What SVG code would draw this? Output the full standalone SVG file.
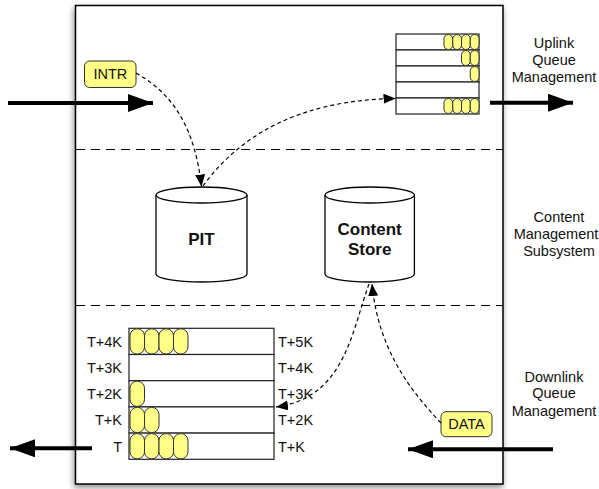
<svg xmlns="http://www.w3.org/2000/svg" width="599" height="489" viewBox="0 0 599 489">
<defs>
<filter id="sh" x="-10%" y="-10%" width="120%" height="120%">
<feDropShadow dx="-1" dy="3" stdDeviation="3" flood-color="#000" flood-opacity="0.45"/>
</filter>
<marker id="ah" viewBox="0 0 12 10" refX="12" refY="5" markerWidth="12" markerHeight="10" markerUnits="userSpaceOnUse" orient="auto">
<path d="M0,0 L12,5 L0,10 Z" fill="#000"/>
</marker>
<marker id="big" viewBox="0 0 25 18" refX="25" refY="9" markerWidth="25" markerHeight="18" markerUnits="userSpaceOnUse" orient="auto">
<path d="M0,0 L25,9 L0,18 Z" fill="#000"/>
</marker>
</defs>
<style>
text{font-family:"Liberation Sans",Arial,sans-serif;font-size:14.5px;fill:#111}
.b{font-weight:bold;font-size:17px}
.r{text-anchor:end}
.m{text-anchor:middle}
.row{fill:#fff;stroke:#222;stroke-width:1.2}
.pill{fill:#ffff88;stroke:#333;stroke-width:1}
.tag{fill:#ffff88;stroke:#333;stroke-width:1}
.sep{fill:none;stroke:#000;stroke-width:1.2;stroke-dasharray:9 6}
.dash{fill:none;stroke:#000;stroke-width:1.2;stroke-dasharray:4 3}
.thick{fill:none;stroke:#000;stroke-width:4}
.cyl{fill:#fff;stroke:#000;stroke-width:1.3}
</style>
<rect id="frame" x="75.5" y="5.5" width="427.5" height="478.5" fill="#fff" stroke="#000" stroke-width="1.5" filter="url(#sh)"/>
<line class="sep" x1="76" y1="149.5" x2="503" y2="149.5"/>
<line class="sep" x1="76" y1="305.5" x2="503" y2="305.5"/>

<g id="uplink-queue">
<rect class="row" x="396" y="34" width="83" height="16"/>
<rect class="row" x="396" y="50" width="83" height="16"/>
<rect class="row" x="396" y="66" width="83" height="16"/>
<rect class="row" x="396" y="82" width="83" height="16"/>
<rect class="row" x="396" y="98" width="83" height="16"/>
<rect class="pill" x="444" y="34.5" width="8.75" height="15" rx="4.3"/>
<rect class="pill" x="452.75" y="34.5" width="8.75" height="15" rx="4.3"/>
<rect class="pill" x="461.5" y="34.5" width="8.75" height="15" rx="4.3"/>
<rect class="pill" x="470.25" y="34.5" width="8.75" height="15" rx="4.3"/>
<rect class="pill" x="461.5" y="50.5" width="8.75" height="15" rx="4.3"/>
<rect class="pill" x="470.25" y="50.5" width="8.75" height="15" rx="4.3"/>
<rect class="pill" x="470.25" y="66.5" width="8.75" height="15" rx="4.3"/>
<rect class="pill" x="444" y="98.5" width="8.75" height="15" rx="4.3"/>
<rect class="pill" x="452.75" y="98.5" width="8.75" height="15" rx="4.3"/>
<rect class="pill" x="461.5" y="98.5" width="8.75" height="15" rx="4.3"/>
<rect class="pill" x="470.25" y="98.5" width="8.75" height="15" rx="4.3"/>
</g>

<g id="downlink-queue">
<rect class="row" x="129" y="328.3" width="145" height="26.2"/>
<rect class="row" x="129" y="354.5" width="145" height="26.2"/>
<rect class="row" x="129" y="380.7" width="145" height="26.2"/>
<rect class="row" x="129" y="406.9" width="145" height="26.2"/>
<rect class="row" x="129" y="433.1" width="145" height="26.2"/>
<rect class="pill" x="130" y="328.8" width="14.5" height="25.2" rx="7"/>
<rect class="pill" x="144.5" y="328.8" width="14.5" height="25.2" rx="7"/>
<rect class="pill" x="159" y="328.8" width="14.5" height="25.2" rx="7"/>
<rect class="pill" x="173.5" y="328.8" width="14.5" height="25.2" rx="7"/>
<rect class="pill" x="130" y="381.2" width="14.5" height="25.2" rx="7"/>
<rect class="pill" x="130" y="407.4" width="14.5" height="25.2" rx="7"/>
<rect class="pill" x="144.5" y="407.4" width="14.5" height="25.2" rx="7"/>
<rect class="pill" x="130" y="433.6" width="14.5" height="25.2" rx="7"/>
<rect class="pill" x="144.5" y="433.6" width="14.5" height="25.2" rx="7"/>
<rect class="pill" x="159" y="433.6" width="14.5" height="25.2" rx="7"/>
<rect class="pill" x="173.5" y="433.6" width="14.5" height="25.2" rx="7"/>
<text class="r" x="122" y="346.7">T+4K</text>
<text class="r" x="122" y="372.9">T+3K</text>
<text class="r" x="122" y="399.1">T+2K</text>
<text class="r" x="122" y="425.3">T+K</text>
<text class="r" x="122" y="451.5">T</text>
<text x="278" y="346.7">T+5K</text>
<text x="278" y="372.9">T+4K</text>
<text x="278" y="399.1">T+3K</text>
<text x="278" y="425.3">T+2K</text>
<text x="278" y="451.5">T+K</text>
</g>

<g id="pit">
<path class="cyl" d="M156,195 L156,274 A45.5,8 0 0 0 247,274 L247,195"/>
<ellipse class="cyl" cx="201.5" cy="195" rx="45.5" ry="8"/>
<text class="b m" x="201.5" y="245">PIT</text>
</g>

<g id="content-store">
<path class="cyl" d="M325,195 L325,274 A44.7,8 0 0 0 414.4,274 L414.4,195"/>
<ellipse class="cyl" cx="369.7" cy="195" rx="44.7" ry="8"/>
<text class="b m" x="369.7" y="234.5">Content</text>
<text class="b m" x="369.7" y="255">Store</text>
</g>

<g id="intr">
<rect class="tag" x="84.5" y="61" width="51.5" height="26.5" rx="5"/>
<text class="m" x="110.3" y="79.3">INTR</text>
</g>

<g id="data">
<rect class="tag" x="441" y="411.7" width="51" height="25" rx="5"/>
<text class="m" x="466.5" y="429.3">DATA</text>
</g>

<g id="labels">
<text class="m" x="554" y="48">Uplink</text>
<text class="m" x="554" y="65">Queue</text>
<text class="m" x="554" y="82">Management</text>
<text class="m" x="559" y="222">Content</text>
<text class="m" x="556" y="239">Management</text>
<text class="m" x="559" y="256">Subsystem</text>
<text class="m" x="554" y="381.5">Downlink</text>
<text class="m" x="554" y="398">Queue</text>
<text class="m" x="554" y="415.5">Management</text>
</g>

<g id="connectors">
<line class="thick" x1="8" y1="103" x2="153" y2="103" marker-end="url(#big)"/>
<line class="thick" x1="490" y1="102.7" x2="573" y2="102.7" marker-end="url(#big)"/>
<line class="thick" x1="92" y1="448.3" x2="10" y2="448.3" marker-end="url(#big)"/>
<line class="thick" x1="553" y1="449.3" x2="408" y2="449.3" marker-end="url(#big)"/>
<path class="dash" d="M136,73 C175,95 195,130 201.5,186.5" marker-end="url(#ah)"/>
<path class="dash" d="M203,186 C240,135 300,100 395.5,98.5" marker-end="url(#ah)"/>
<path class="dash" d="M441,423 C405,385 378,345 372,284" marker-end="url(#ah)"/>
<path class="dash" d="M369,284 C352,330 345,398 276,406.9" marker-end="url(#ah)"/>
</g>
</svg>
